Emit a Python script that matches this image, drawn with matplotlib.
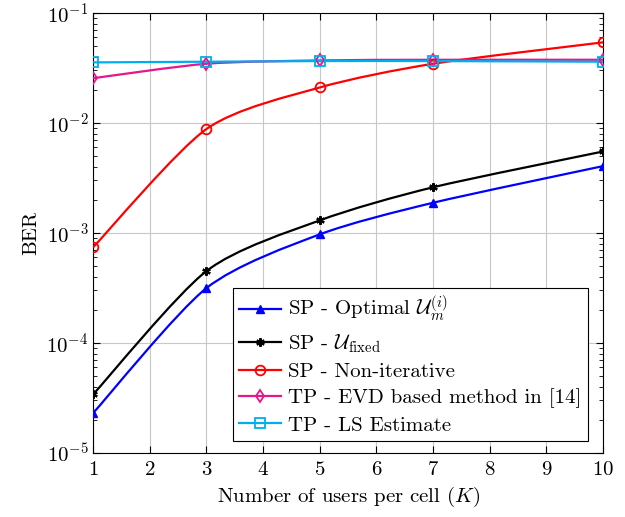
import numpy as np
import matplotlib
matplotlib.use('Agg')
import matplotlib.pyplot as plt
from matplotlib.path import Path
from matplotlib.patches import PathPatch
from matplotlib.lines import Line2D

plt.rcParams['font.family'] = 'serif'
plt.rcParams['font.serif'] = ['cmr10', 'DejaVu Serif']
plt.rcParams['mathtext.fontset'] = 'cm'
plt.rcParams['axes.formatter.use_mathtext'] = True

# data
users = [1, 3, 5, 7, 10]
ber_sp_optimal = [2.3e-5, 3.15e-4, 9.7e-4, 1.88e-3, 4.05e-3]
ber_sp_fixed = [3.4e-5, 4.5e-4, 1.3e-3, 2.6e-3, 5.5e-3]
ber_sp_noniter = [7.4e-4, 8.8e-3, 2.1e-2, 3.45e-2, 5.4e-2]
ber_tp_evd = [2.55e-2, 3.45e-2, 3.7e-2, 3.75e-2, 3.75e-2]
ber_tp_ls = [3.55e-2, 3.6e-2, 3.65e-2, 3.65e-2, 3.6e-2]

labels = [r'SP - Optimal $\mathcal{U}_m^{(i)}$',
          r'SP - $\mathcal{U}_{\mathrm{fixed}}$',
          'SP - Non-iterative',
          'TP - EVD based method in [14]',
          'TP - LS Estimate']


def smooth_path(xs, ys, k=0.13):
    # bezier through the points, built in (x, log y) like pgfplots "smooth"
    px = np.array(xs, dtype=float)
    py = np.log10(ys)
    verts = [(px[0], py[0])]
    codes = [Path.MOVETO]
    n = len(px)
    for i in range(n - 1):
        a = max(i - 1, 0)
        b = min(i + 2, n - 1)
        c1 = (px[i] + k * (px[i + 1] - px[a]), py[i] + k * (py[i + 1] - py[a]))
        c2 = (px[i + 1] - k * (px[b] - px[i]), py[i + 1] - k * (py[b] - py[i]))
        verts += [c1, c2, (px[i + 1], py[i + 1])]
        codes += [Path.CURVE4] * 3
    verts = [(x, 10 ** y) for x, y in verts]
    return Path(verts, codes)


fig = plt.figure(figsize=(6.25, 5.17), dpi=100)
ax = fig.add_axes([0.149, 0.124, 0.816, 0.851])

series = [
    (ber_sp_optimal, '#0000ff', dict(marker='^', mfc='#0000ff', ms=6)),
    (ber_sp_fixed, 'black', dict(marker=(6, 2, 0), mfc='black', ms=6, mew=1.6)),
    (ber_sp_noniter, '#ff0000', dict(marker='o', mfc='none', ms=7, mew=1.3)),
    (ber_tp_evd, '#e6168c', dict(marker='d', mfc='none', ms=6, mew=1.3)),
    (ber_tp_ls, '#00aeef', dict(marker='s', mfc='none', ms=7, mew=1.3)),
]

handles = []
for (vals, col, mk), lab in zip(series, labels):
    ax.add_patch(PathPatch(smooth_path(users, vals), fc='none', ec=col, lw=1.6, zorder=3))
    ax.plot(users, vals, ls='none', color=col, mec=col, zorder=4, **mk)
    handles.append(Line2D([], [], color=col, lw=1.6, mec=col, **mk))

ax.set_yscale('log')
ax.set_xlim(1, 10)
ax.set_ylim(1e-5, 1e-1)
ax.set_xticks(range(1, 11))
ax.grid(True, which='major', color='#c8c8c8', lw=0.8)
ax.set_axisbelow(True)
ax.tick_params(which='both', direction='in', top=True, right=True, labelsize=15)
ax.tick_params(which='major', length=5)
ax.tick_params(which='minor', length=3)
ax.tick_params(axis='x', pad=6)

ax.set_xlabel('Number of users per cell ($K$)', fontsize=15)
ax.set_ylabel('BER', fontsize=15)

leg = ax.legend(handles, labels, loc='lower right', bbox_to_anchor=(0.97, 0.027),
                fontsize=15, fancybox=False, framealpha=1, edgecolor='black',
                handlelength=2.0, handletextpad=0.35, borderpad=0.3, labelspacing=0.37,
                borderaxespad=0)
leg.get_frame().set_linewidth(0.8)

fig.savefig('out.png', dpi=100)
